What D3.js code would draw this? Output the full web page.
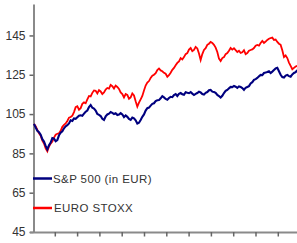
<!DOCTYPE html>
<html>
<head>
<meta charset="utf-8">
<script src="https://cdn.jsdelivr.net/npm/d3@7/dist/d3.min.js"></script>
<style>
  body { margin: 0; background: #fff; }
  svg { display: block; }
  text { font-family: "Liberation Sans", Arial, sans-serif; fill: #333; }
</style>
</head>
<body>
<div id="chart"></div>
<script>
// index levels, rebased to 100
const spx = [
  100, 98.2, 96.5, 95.8, 94.5, 92.2, 91, 88.8, 87, 89.2,
  90.5, 92.8, 92.5, 91.2, 91.8, 94.2, 95.5, 96.2, 97.8, 98.8,
  99.3, 100.2, 101.8, 101.5, 102.8, 102.6, 103.4, 104.2, 104.4, 104.1,
  105.2, 106.2, 106.8, 108.6, 109.6, 108.2, 107.8, 106.8, 105, 104.6,
  104, 102.6, 102, 103.8, 104.8, 105.2, 106, 105.6, 105, 105.4,
  104.5, 104.8, 105.5, 104.8, 103.5, 104.3, 103.6, 102.5, 102, 103.2,
  102.8, 101.8, 100.2, 100.6, 102, 103.6, 104.8, 106.8, 108, 108.3,
  109.3, 110.2, 110.5, 111.6, 112, 112.1, 113, 114.1, 113.5, 112.7,
  112.3, 113.2, 113.8, 113.6, 114.7, 115.2, 114.2, 115.3, 115.7, 115.1,
  114.8, 116.1, 115.8, 115.6, 116.2, 115.4, 114.7, 115.3, 115.7, 116.4,
  116, 115.2, 114.9, 115.8, 116.2, 117.1, 117.3, 116.4, 116.2, 115.8,
  114.7, 114.2, 113.4, 114.3, 115.7, 116.8, 117.3, 118.1, 118.8, 118.7,
  119.3, 118.9, 118.3, 119.1, 118.8, 118.2, 117.3, 118.4, 118.8, 119.2,
  120.6, 121.2, 122.4, 122.8, 123.4, 124.2, 124.9, 124.8, 125.9, 126.1,
  126.4, 126.8, 125.9, 126.6, 127.4, 128.2, 128.5, 126.8, 125, 123.8,
  123.6, 124.6, 124.9, 124.3, 124, 125.2, 125.9, 126.3, 127.4
]
const stoxx = [
  100, 98.8, 97, 95.2, 94, 91.5, 90, 87.5, 86, 88.5,
  90, 91, 93, 94.5, 95, 95.2, 96.5, 98.5, 99.5, 100.2,
  101.5, 103.2, 103.5, 104.2, 106, 108.5, 109, 107.2, 108, 110.2,
  111, 110.5, 112.5, 114.2, 114, 115.8, 117, 116.8, 115.5, 117.2,
  116.5, 115.2, 116, 117.5, 118.3, 118, 119.8, 119.2, 118, 119.5,
  118.8, 117.8, 116, 115.2, 113.5, 115.2, 114.7, 112.8, 113.5, 115.5,
  114.5, 111.5, 108.8, 110.8, 112.5, 114.2, 117, 119.5, 121, 121.8,
  123.4, 124.5, 125, 125.8, 127.4, 128.2, 127.2, 126.8, 126, 125.5,
  124, 124.8, 126, 127.5, 128.5, 129.8, 131, 131.8, 133.5, 132.8,
  134, 135.5, 136, 137.8, 138.6, 137, 137.6, 139.2, 138.4, 135.8,
  132.5, 135.5, 137.6, 138.5, 140.2, 140.8, 141.7, 141.2, 140.2, 138.8,
  136.6, 133.2, 132, 133.5, 134, 135.5, 136, 137.2, 138.6, 137.8,
  138.5, 137.5, 136.6, 137.2, 136.1, 136.4, 137.5, 135.5, 136, 137.2,
  137.6, 137.9, 138.6, 139.8, 140.2, 139.8, 141.2, 142.2, 141.2, 141.9,
  142.7, 143.3, 143.7, 143.9, 142.7, 142.9, 141.7, 140.8, 140.2, 137.5,
  134, 134.8, 133.5, 131.2, 129.5, 127.8, 128.5, 129.2, 129.5
]
const seriesNames = ["S&P 500 (in EUR)", "EURO STOXX"]
const seriesColors = ["#00007f", "#ff0000"]
const yTicks = [45, 65, 85, 105, 125, 145]
const xPeriods = d3.range(13)

const width = 297
const height = 243

const svg = d3.select("#chart")
  .append("svg")
  .attr("width", width)
  .attr("height", height)

const y = d3.scaleLinear().domain([45, 161]).range([232, 4])
const x = d3.scaleLinear().domain([0, 1]).range([34, 297.3])
const xTick = d3.scalePoint().domain(xPeriods).range([33, 300.6])

// y axis
const yAxis = svg.append("g")
  .attr("transform", "translate(33.5,0)")
  .call(d3.axisLeft(y).tickValues(yTicks).tickSize(4).tickSizeOuter(0).tickPadding(4))
yAxis.select(".domain").attr("stroke", "#8a8a8a").attr("stroke-width", 2)
yAxis.selectAll(".tick line").attr("stroke", "#666").attr("stroke-width", 1.5)
yAxis.selectAll(".tick text")
  .style("font-size", "12px")
  .attr("fill", "#333")

// x axis
svg.append("line")
  .attr("x1", 30).attr("x2", width)
  .attr("y1", y(45) + 0.5).attr("y2", y(45) + 0.5)
  .attr("stroke", "#8a8a8a")
  .attr("stroke-width", 2)
svg.append("g")
  .selectAll("line")
  .data(xPeriods.slice(1))
  .join("line")
  .attr("x1", (d) => xTick(d)).attr("x2", (d) => xTick(d))
  .attr("y1", y(45)).attr("y2", y(45) + 4.5)
  .attr("stroke", "#666")
  .attr("stroke-width", 1.5)

const line = d3.line()
  .x((d, i, data) => x(i / (data.length - 1)))
  .y((d) => y(d))

svg.append("path")
  .datum(stoxx)
  .attr("fill", "none")
  .attr("stroke", seriesColors[1])
  .attr("stroke-width", 1.8)
  .attr("d", line)

svg.append("path")
  .datum(spx)
  .attr("fill", "none")
  .attr("stroke", seriesColors[0])
  .attr("stroke-width", 2.1)
  .attr("d", line)

// legend
const legend = svg.append("g")
  .selectAll("g")
  .data(seriesNames)
  .join("g")
  .attr("transform", (d, i) => `translate(33, ${178.5 + i * 29.5})`)

legend.append("line")
  .attr("x1", 0).attr("x2", 19)
  .attr("stroke", (d, i) => seriesColors[i])
  .attr("stroke-width", 2.5)

legend.append("text")
  .attr("x", (d, i) => i ? 21 : 20)
  .attr("dy", "0.35em")
  .style("font-size", "11.5px")
  .style("letter-spacing", "0.4px")
  .text((d) => d)
</script>
</body>
</html>
